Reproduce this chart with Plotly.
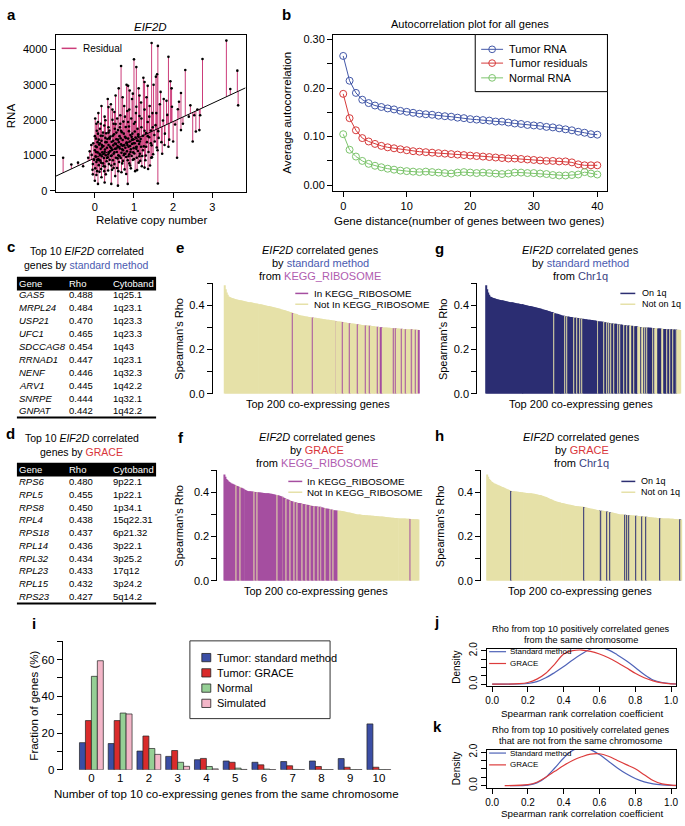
import plotly.graph_objects as go

W, H = 685, 826
FONT = "Liberation Sans, Arial, Helvetica, sans-serif"

# ---------------- panel a : EIF2D RNA vs relative copy number ----------------
cn = [-0.08, -0.05, -0.04, -0.02, 0.00, 0.01, 0.02, 0.03, 0.04, 0.05,
      0.06, 0.07, 0.08, 0.09, 0.10, 0.11, 0.12, 0.13, 0.14, 0.15,
      0.16, 0.17, 0.18, 0.19, 0.20, 0.21, 0.22, 0.23, 0.24, 0.25,
      0.26, 0.27, 0.28, 0.29, 0.30, 0.31, 0.32, 0.33, 0.34, 0.35,
      0.36, 0.37, 0.38, 0.39, 0.40, 0.41, 0.42, 0.43, 0.44, 0.45,
      0.46, 0.47, 0.48, 0.49, 0.50, 0.51, 0.52, 0.53, 0.54, 0.55,
      0.56, 0.57, 0.58, 0.59, 0.60, 0.61, 0.62, 0.63, 0.64, 0.65,
      0.66, 0.67, 0.68, 0.69, 0.70, 0.71, 0.72, 0.73, 0.74, 0.75,
      0.76, 0.77, 0.78, 0.79, 0.80, 0.81, 0.82, 0.83, 0.84, 0.85,
      0.86, 0.87, 0.88, 0.89, 0.90, 0.91, 0.92, 0.93, 0.94, 0.95,
      0.96, 0.97, 0.98, 0.99, 1.00, 1.01, 1.02, 1.03, 1.04, 1.05,
      1.06, 1.07, 1.08, 1.09, 1.10, 1.11, 1.12, 1.13, 1.14, 1.15,
      1.17, 1.19, 1.21, 1.23, 1.25, 1.27, 1.29, 1.31, 1.33, 1.35,
      1.37, 1.39, 1.41, 1.43, 1.45, 1.47, 1.49, 1.52, 1.55, 1.58,
      1.62, 1.66, 1.70, 1.74, 1.79, 1.85, 1.90, 1.97, 2.05, 2.15,
      0.02, 0.06, 0.10, 0.14, 0.18, 0.22, 0.26, 0.30, 0.34, 0.38,
      0.42, 0.46, 0.50, 0.54, 0.58, 0.62, 0.66, 0.70, 0.74, 0.78,
      0.82, 0.86, 0.90, 0.94, 0.98, 1.02, 1.06, 1.10, 1.14, 1.18,
      0.05, 0.15, 0.25, 0.35, 0.45, 0.55, 0.65, 0.75, 0.85, 0.95,
      0.12, 0.28, 0.44, 0.52, 0.68, 0.80, 0.92, 1.08, 1.20, 1.36,
      0.03, 0.07, 0.11, 0.15, 0.19, 0.23, 0.27, 0.31, 0.35, 0.39,
      0.43, 0.47, 0.51, 0.55, 0.59, 0.63, 0.67, 0.71, 0.75, 0.79,
      0.83, 0.87, 0.91, 0.95, 0.99, 1.03, 1.07, 1.11, 1.15, 1.19,
      1.23, 1.27, 1.31, 1.35, 1.39, 1.43, 1.48, 1.53, 1.57, 1.63,
      0.00, 0.04, 0.09, 0.13, 0.17, 0.21, 0.27, 0.33, 0.37, 0.41,
      0.48, 0.53, 0.57, 0.61, 0.64, 0.71, 0.77, 0.81, 0.88, 0.97,
      1.05, 1.12, 1.18, 1.24, 1.32, 1.40, 1.50, 1.68, 1.83, 1.93,
      -0.06, 0.04, 0.16, 0.24, 0.36, 0.48, 0.60, 0.72, 0.88, 1.00,
      1.16, 1.30, 1.46, 1.60, 1.72, 1.88, 2.00, 2.25, 2.40, 2.62,
      0.67, 1.00, 1.06, 1.45, 1.61, 1.56, 1.59, 1.88, 1.76, 1.96,
      2.31, 2.20, 2.75, 2.69, 3.36, 3.46, 0.35, 0.50, 0.01, 0.08,
      0.85, 0.89, 1.27, 1.35, 1.14, 2.44, 2.54, 2.12, 3.64, 3.66,
      1.61, 2.10, 2.50, 2.58, 2.67, 1.27, 1.44, 1.78, 2.20,
      -0.81, -0.60, -0.43, -0.30, -0.17, -0.13, -0.09, -0.05, 0.00, 0.08,
      0.17, 0.25, 0.42, 0.59, 0.84]
rna = [1020, 760, 1350, 880, 1150, 640, 980, 1480, 820, 1240,
       560, 1090, 1620, 900, 730, 1310, 1050, 1760, 860, 1190,
       620, 1420, 980, 1090, 1560, 780, 1270, 930, 1850, 1110,
       690, 1380, 1010, 1630, 840, 1220, 1470, 950, 580, 1300,
       1080, 1710, 880, 1250, 1540, 990, 720, 1390, 1160, 2010,
       870, 1290, 1050, 1600, 760, 1340, 1190, 1890, 940, 1460,
       1100, 650, 1270, 1720, 1010, 1380, 820, 1550, 1200, 2140,
       930, 1320, 1080, 1660, 780, 1440, 1150, 1960, 1010, 1290,
       610, 1530, 1220, 1810, 960, 1370, 1120, 2260, 870, 1480,
       1250, 1690, 1040, 1400, 720, 1580, 1180, 2050, 990, 1330,
       1620, 880, 1460, 1210, 1900, 1060, 1350, 560, 1510, 1240,
       2380, 940, 1420, 1760, 1130, 1600, 800, 1330, 2120, 1050,
       1470, 1800, 990, 1560, 1260, 2300, 870, 1640, 1380, 1950,
       1100, 1520, 720, 1710, 1290, 2200, 1040, 1580, 1860, 1230,
       1690, 2450, 1380, 1990, 1620, 2150, 1450, 2380, 1880, 2520,
       1260, 880, 1450, 1020, 1300, 700, 1170, 1380, 1030, 1480,
       1210, 1560, 1090, 1330, 920, 1240, 1490, 1180, 1620, 1050,
       1360, 980, 1270, 1530, 1090, 1680, 1190, 1420, 980, 1250,
       1700, 1900, 2100, 1800, 2300, 1650, 1900, 2400, 1950, 2600,
       540, 470, 600, 420, 530, 480, 640, 590, 700, 620,
       1100, 1380, 870, 1560, 1240, 1050, 1500, 930, 1650, 1120,
       1000, 1420, 1760, 1200, 1450, 980, 1700, 1280, 1050, 1500,
       1300, 1820, 1100, 1450, 1350, 1950, 1250, 1550, 1400, 2050,
       1150, 1700, 1250, 1550, 2100, 1350, 1800, 1400, 2200, 1500,
       1550, 1900, 2200, 1350, 2400, 1650, 2000, 2600, 1500, 2450,
       1900, 2700, 2050, 2900, 1800, 2650, 2100, 3000, 2300, 2750,
       2200, 2900, 2500, 3200, 2650, 2400, 3000, 2800, 2550, 3100,
       600, 450, 800, 560, 760, 650, 560, 850, 780, 900,
       850, 1000, 950, 1150, 1050, 1250, 1400, 1900, 2100, 2300,
       3530, 3720, 3500, 4180, 4100, 3230, 3300, 3790, 2600, 2900,
       3420, 2770, 3730, 2140, 4250, 2880, 2370, 2230, 2050, 1950,
       2970, 2840, 3080, 2970, 2700, 2420, 2140, 2310, 3400, 2420,
       210, 940, 1400, 1680, 1720, 660, 940, 1300, 1720,
       940, 750, 800, 700, 940, 1120, 1300, 470, 290, 200,
       390, 240, 200, 150, 200]
fit_intercept = 932
fit_slope = 515
cn_range = [-1.0, 3.85]

# ---------------- panel b : autocorrelation ----------------
gene_dist = list(range(41))
tumor_rna = [0.266, 0.215, 0.190, 0.176, 0.169, 0.164, 0.161, 0.158, 0.156, 0.153,
             0.151, 0.149, 0.147, 0.146, 0.145, 0.143, 0.142, 0.141, 0.139, 0.138,
             0.136, 0.135, 0.134, 0.133, 0.131, 0.131, 0.129, 0.127, 0.126, 0.124,
             0.123, 0.122, 0.120, 0.119, 0.117, 0.115, 0.113, 0.110, 0.108, 0.105, 0.104]
tumor_resid = [0.188, 0.138, 0.113, 0.097, 0.090, 0.085, 0.081, 0.078, 0.076, 0.074,
               0.072, 0.070, 0.069, 0.068, 0.067, 0.066, 0.065, 0.064, 0.063, 0.062,
               0.061, 0.060, 0.059, 0.058, 0.057, 0.056, 0.055, 0.055, 0.054, 0.053,
               0.052, 0.051, 0.050, 0.050, 0.049, 0.049, 0.047, 0.043, 0.041, 0.041, 0.041]
normal_rna = [0.105, 0.073, 0.059, 0.050, 0.044, 0.040, 0.037, 0.034, 0.032, 0.030,
              0.029, 0.028, 0.027, 0.028, 0.027, 0.026, 0.025, 0.024, 0.026, 0.027,
              0.026, 0.025, 0.026, 0.025, 0.024, 0.023, 0.024, 0.026, 0.026, 0.025,
              0.025, 0.024, 0.023, 0.021, 0.020, 0.020, 0.021, 0.022, 0.027, 0.024, 0.022]

# ---------------- tables c / d ----------------
c_genes = ["GAS5", "MRPL24", "USP21", "UFC1", "SDCCAG8", "RRNAD1", "NENF", "ARV1", "SNRPE", "GNPAT"]
c_rho = ["0.488", "0.484", "0.470", "0.465", "0.454", "0.447", "0.446", "0.445", "0.444", "0.442"]
c_band = ["1q25.1", "1q23.1", "1q23.3", "1q23.3", "1q43", "1q23.1", "1q32.3", "1q42.2", "1q32.1", "1q42.2"]
d_genes = ["RPS6", "RPL5", "RPS8", "RPL4", "RPS18", "RPL14", "RPL32", "RPL23", "RPL15", "RPS23"]
d_rho = ["0.480", "0.455", "0.450", "0.438", "0.437", "0.436", "0.434", "0.433", "0.432", "0.427"]
d_band = ["9p22.1", "1p22.1", "1p34.1", "15q22.31", "6p21.32", "3p22.1", "3p25.2", "17q12", "3p24.2", "5q14.2"]

# ---------------- panels e-h : top 200 co-expressing genes ----------------
rho_standard = [
    0.490, 0.472, 0.458, 0.447, 0.440, 0.437, 0.435, 0.433, 0.431, 0.430,
    0.428, 0.427, 0.426, 0.425, 0.424, 0.423, 0.422, 0.421, 0.420, 0.419,
    0.418, 0.417, 0.416, 0.415, 0.414, 0.413, 0.413, 0.412, 0.411, 0.410,
    0.409, 0.408, 0.408, 0.407, 0.406, 0.405, 0.404, 0.404, 0.403, 0.402,
    0.401, 0.400, 0.399, 0.398, 0.397, 0.396, 0.395, 0.394, 0.393, 0.392,
    0.391, 0.390, 0.389, 0.388, 0.386, 0.385, 0.384, 0.382, 0.381, 0.380,
    0.378, 0.377, 0.376, 0.374, 0.373, 0.372, 0.370, 0.369, 0.367, 0.365,
    0.364, 0.362, 0.361, 0.360, 0.358, 0.357, 0.356, 0.355, 0.354, 0.353,
    0.352, 0.351, 0.350, 0.349, 0.349, 0.348, 0.347, 0.347, 0.346, 0.345,
    0.345, 0.344, 0.343, 0.343, 0.342, 0.341, 0.341, 0.340, 0.339, 0.339,
    0.338, 0.337, 0.337, 0.336, 0.335, 0.335, 0.334, 0.333, 0.333, 0.332,
    0.331, 0.331, 0.330, 0.329, 0.329, 0.328, 0.327, 0.327, 0.326, 0.325,
    0.325, 0.324, 0.323, 0.322, 0.322, 0.321, 0.320, 0.320, 0.319, 0.318,
    0.318, 0.317, 0.316, 0.316, 0.315, 0.314, 0.314, 0.313, 0.313, 0.312,
    0.311, 0.311, 0.310, 0.310, 0.309, 0.309, 0.308, 0.308, 0.307, 0.307,
    0.306, 0.306, 0.305, 0.305, 0.304, 0.304, 0.303, 0.303, 0.302, 0.302,
    0.301, 0.301, 0.300, 0.300, 0.300, 0.299, 0.299, 0.298, 0.298, 0.298,
    0.297, 0.297, 0.297, 0.296, 0.296, 0.296, 0.295, 0.295, 0.295, 0.294,
    0.294, 0.294, 0.293, 0.293, 0.293, 0.292, 0.292, 0.292, 0.292, 0.291,
    0.291, 0.291, 0.290, 0.290, 0.290, 0.290, 0.289, 0.289, 0.289, 0.288]
rho_grace = [
    0.480, 0.470, 0.460, 0.455, 0.450, 0.446, 0.443, 0.440, 0.438, 0.436,
    0.434, 0.432, 0.430, 0.428, 0.426, 0.424, 0.422, 0.420, 0.418, 0.416,
    0.414, 0.412, 0.410, 0.408, 0.406, 0.405, 0.404, 0.404, 0.403, 0.403,
    0.402, 0.402, 0.401, 0.401, 0.400, 0.400, 0.399, 0.399, 0.398, 0.398,
    0.397, 0.397, 0.396, 0.396, 0.395, 0.395, 0.394, 0.393, 0.393, 0.392,
    0.391, 0.390, 0.389, 0.388, 0.387, 0.386, 0.384, 0.383, 0.381, 0.380,
    0.378, 0.376, 0.374, 0.372, 0.370, 0.368, 0.366, 0.364, 0.362, 0.360,
    0.358, 0.357, 0.356, 0.355, 0.354, 0.353, 0.352, 0.351, 0.350, 0.349,
    0.348, 0.347, 0.346, 0.345, 0.344, 0.343, 0.342, 0.341, 0.340, 0.339,
    0.338, 0.338, 0.337, 0.337, 0.336, 0.336, 0.335, 0.335, 0.334, 0.333,
    0.332, 0.331, 0.330, 0.329, 0.328, 0.327, 0.326, 0.325, 0.324, 0.323,
    0.322, 0.321, 0.320, 0.319, 0.318, 0.318, 0.317, 0.317, 0.316, 0.316,
    0.315, 0.315, 0.314, 0.313, 0.312, 0.311, 0.310, 0.309, 0.308, 0.307,
    0.306, 0.305, 0.304, 0.303, 0.302, 0.301, 0.300, 0.300, 0.299, 0.299,
    0.298, 0.298, 0.297, 0.297, 0.297, 0.296, 0.296, 0.296, 0.295, 0.295,
    0.295, 0.294, 0.294, 0.294, 0.293, 0.293, 0.293, 0.292, 0.292, 0.291,
    0.291, 0.290, 0.290, 0.289, 0.289, 0.288, 0.288, 0.287, 0.287, 0.286,
    0.286, 0.285, 0.285, 0.285, 0.284, 0.284, 0.284, 0.283, 0.283, 0.283,
    0.282, 0.282, 0.282, 0.281, 0.281, 0.281, 0.281, 0.280, 0.280, 0.280,
    0.280, 0.279, 0.279, 0.279, 0.279, 0.278, 0.278, 0.278, 0.278, 0.277]
gene_rank = list(range(200))
kegg_standard = [69, 90, 114, 121, 128, 136, 144, 148, 157, 160, 161, 173, 175,
                 181, 185, 191, 196, 199]
not1q_standard = [69, 81, 83, 90, 93, 96, 98, 114, 121, 124, 126, 128, 131, 135, 137,
                  141, 144, 147, 148, 151, 156, 157, 158, 160, 161, 163, 165, 171,
                  173, 174, 175, 180, 181, 185, 188, 191, 194, 196, 197, 198, 199]
kegg_grace_gaps = [12, 16, 31, 34, 54, 60, 64, 68, 72, 75, 80, 84, 88, 92, 96, 99,
                   104, 109, 112]
kegg_grace_last = 116
kegg_grace_extra = [191]
chr1q_grace = [24, 99, 115, 117, 123, 126, 141, 143, 145, 152, 159, 163, 177, 198]

# ---------------- panel i ----------------
n_same = list(range(11))
frac_standard = [14.8, 14.3, 10.2, 7.3, 5.5, 4.8, 4.1, 4.5, 4.8, 6.1, 25.0]
frac_grace = [26.8, 26.8, 18.4, 10.5, 6.2, 4.1, 2.7, 2.2, 1.8, 1.4, 1.4]
frac_normal = [50.9, 30.9, 11.6, 4.1, 1.8, 0.9, 0.4, 0.2, 0.1, 0.1, 0.1]
frac_sim = [59.4, 30.4, 8.4, 1.9, 0.5, 0.2, 0.1, 0.1, 0.1, 0.1, 0.1]

# ---------------- panels j / k : density curves ----------------
j_std_x = [0.00, 0.15, 0.20, 0.25, 0.30, 0.35, 0.40, 0.45, 0.50, 0.55, 0.60, 0.65, 0.70,
           0.75, 0.80, 0.85, 0.90, 0.95, 1.00, 1.03]
j_std_y = [0.00, 0.01, 0.04, 0.15, 0.38, 0.70, 1.05, 1.45, 1.80, 2.10, 2.20, 2.05, 1.75,
           1.40, 1.00, 0.58, 0.25, 0.10, 0.03, 0.01]
j_gr_x = [0.00, 0.15, 0.20, 0.25, 0.30, 0.35, 0.40, 0.45, 0.50, 0.55, 0.60, 0.65, 0.70,
          0.75, 0.80, 0.85, 0.90, 0.95, 1.00, 1.03]
j_gr_y = [0.00, 0.03, 0.10, 0.30, 0.65, 1.20, 1.80, 2.00, 2.04, 1.96, 1.80, 1.58, 1.30,
          0.98, 0.65, 0.38, 0.20, 0.08, 0.02, 0.01]
k_std_x = [0.10, 0.20, 0.25, 0.30, 0.35, 0.40, 0.45, 0.50, 0.55, 0.60, 0.65, 0.70, 0.75,
           0.80, 0.85, 0.90, 0.95, 1.00, 1.03]
k_std_y = [0.00, 0.03, 0.15, 0.50, 1.05, 1.65, 2.10, 2.25, 2.15, 1.85, 1.45, 1.05, 0.70,
           0.42, 0.22, 0.10, 0.04, 0.01, 0.00]
k_gr_x = [0.07, 0.20, 0.25, 0.30, 0.35, 0.40, 0.45, 0.50, 0.55, 0.60, 0.65, 0.70, 0.75,
          0.80, 0.85, 0.90, 0.95, 1.00, 1.03]
k_gr_y = [0.00, 0.05, 0.20, 0.50, 0.85, 1.20, 1.50, 1.72, 1.88, 1.90, 1.75, 1.50, 1.25,
          1.00, 0.65, 0.30, 0.10, 0.03, 0.01]

# colours
PINK = "#cc3d7a"
B_BLUE, B_RED, B_GREEN = "#4358a8", "#d63a3a", "#7cc46c"
PURPLE, KHAKI, NAVY = "#a54ea0", "#e6e1a9", "#2c2e72"
TXT_BLUE, TXT_RED, TXT_PURPLE, TXT_NAVY = "#4a5ab0", "#d9353b", "#b05cb0", "#3a3f80"
I_BLUE, I_RED, I_GREEN, I_PINK = "#3b4ea5", "#d92b2b", "#95cf95", "#f3b6c8"
D_BLUE, D_RED = "#4f63b8", "#dc3c3c"


def fx(p):
    return p / W


def fy(p):
    return 1 - p / H


def dx(l, r):
    return [fx(l), fx(r)]


def dy(top, bottom):
    return [fy(bottom), fy(top)]


def axis(domain, rng, size=11, **kw):
    d = dict(domain=domain, range=rng, showgrid=False, zeroline=False,
             showline=True, linecolor="black", linewidth=1,
             ticks="outside", ticklen=5, tickwidth=1, tickcolor="black",
             tickfont=dict(family=FONT, size=size, color="black"), fixedrange=True)
    d.update(kw)
    return d


annotations = []
shapes = []


def txt(x, y, text, size=11, xa="center", angle=0, color="black"):
    annotations.append(dict(x=fx(x), y=fy(y), xref="paper", yref="paper", text=text,
                            showarrow=False, xanchor=xa, yanchor="middle", textangle=angle,
                            borderpad=0, font=dict(family=FONT, size=size, color=color)))


def hline(x0, x1, y, color, width=1.2):
    shapes.append(dict(type="line", xref="paper", yref="paper", x0=fx(x0), x1=fx(x1),
                       y0=fy(y), y1=fy(y), line=dict(color=color, width=width)))


def rect(x0, y0, x1, y1, fill, line="black", lw=1):
    shapes.append(dict(type="rect", xref="paper", yref="paper", x0=fx(x0), x1=fx(x1),
                       y0=fy(y1), y1=fy(y0), fillcolor=fill, line=dict(color=line, width=lw)))


def ring(x, y, r, color):
    shapes.append(dict(type="circle", xref="paper", yref="paper", x0=fx(x - r), x1=fx(x + r),
                       y0=fy(y + r), y1=fy(y - r), line=dict(color=color, width=1)))


fig = go.Figure()

# ---- a ----
seg_x, seg_y = [], []
for x, y in zip(cn, rna):
    seg_x += [x, x, None]
    seg_y += [y, fit_intercept + fit_slope * x, None]
fig.add_trace(go.Scatter(x=seg_x, y=seg_y, mode="lines", line=dict(color=PINK, width=1),
                         xaxis="x", yaxis="y"))
fig.add_trace(go.Scatter(x=cn, y=rna, mode="markers", marker=dict(color="black", size=2.6),
                         xaxis="x", yaxis="y"))
fig.add_trace(go.Scatter(x=cn_range, y=[fit_intercept + fit_slope * v for v in cn_range],
                         mode="lines", line=dict(color="black", width=1), xaxis="x", yaxis="y"))

# ---- b ----
for vals, col in [(tumor_rna, B_BLUE), (tumor_resid, B_RED), (normal_rna, B_GREEN)]:
    fig.add_trace(go.Scatter(x=gene_dist, y=vals, mode="lines+markers",
                             line=dict(color=col, width=1),
                             marker=dict(symbol="circle-open", size=7, color=col,
                                         line=dict(width=1, color=col)),
                             xaxis="x2", yaxis="y2"))


# ---- e-h ----
def colours(members, on, off):
    s = set(members)
    return [on if i in s else off for i in gene_rank]


kegg_grace = [i for i in range(kegg_grace_last + 1) if i not in kegg_grace_gaps] + kegg_grace_extra
bar_sets = [
    (rho_standard, colours(kegg_standard, PURPLE, KHAKI), "x3", "y3"),
    (rho_grace, colours(kegg_grace, PURPLE, KHAKI), "x4", "y4"),
    (rho_standard, colours(not1q_standard, KHAKI, NAVY), "x5", "y5"),
    (rho_grace, colours(chr1q_grace, NAVY, KHAKI), "x6", "y6"),
]
for vals, cols, xa, ya in bar_sets:
    fig.add_trace(go.Bar(x=gene_rank, y=vals, width=1,
                         marker=dict(color=cols, line=dict(width=0)), xaxis=xa, yaxis=ya))

# ---- i ----
for vals, col in [(frac_standard, I_BLUE), (frac_grace, I_RED),
                  (frac_normal, I_GREEN), (frac_sim, I_PINK)]:
    fig.add_trace(go.Bar(x=n_same, y=vals, marker=dict(color=col, line=dict(color="#222", width=0.7)),
                         xaxis="x7", yaxis="y7"))

# ---- j / k ----
for xs, ys, col, xa, ya in [(j_std_x, j_std_y, D_BLUE, "x8", "y8"),
                            (j_gr_x, j_gr_y, D_RED, "x8", "y8"),
                            (k_std_x, k_std_y, D_BLUE, "x9", "y9"),
                            (k_gr_x, k_gr_y, D_RED, "x9", "y9")]:
    fig.add_trace(go.Scatter(x=xs, y=ys, mode="lines", line=dict(color=col, width=1.2, shape="spline"),
                             xaxis=xa, yaxis=ya, cliponaxis=True))

# ---- axes ----
blank_x = dict(visible=False, showgrid=False, zeroline=False, fixedrange=True)
rho_ticks = dict(tickvals=[0, 0.1, 0.2, 0.3, 0.4, 0.5], ticktext=["0.0", "", "0.2", "", "0.4", ""])
dens_ticks = dict(tickvals=[0, 0.5, 1, 1.5, 2], ticktext=["0.0", "", "", "", "2.0"], tickangle=-90)
prob_ticks = dict(tickvals=[0, 0.2, 0.4, 0.6, 0.8, 1.0], ticktext=["0.0", "0.2", "0.4", "0.6", "0.8", "1.0"])

layout_axes = dict(
    xaxis=axis(dx(54, 245), [-1.0, 3.85], mirror=True, tickvals=[0, 1, 2, 3], anchor="y"),
    yaxis=axis(dy(28, 188), [-30, 4420], mirror=True, tickvals=[0, 1000, 2000, 3000, 4000], anchor="x"),
    xaxis2=axis(dx(333, 609), [-1.6, 41.6], mirror=True, tickvals=[0, 10, 20, 30, 40], anchor="y2"),
    yaxis2=axis(dy(28, 187), [-0.012, 0.31], mirror=True, anchor="x2",
                tickvals=[0, 0.05, 0.1, 0.15, 0.2, 0.25, 0.3],
                ticktext=["0.00", "", "0.10", "", "0.20", "", "0.30"]),
    xaxis3=dict(blank_x, domain=dx(212, 427), range=[-12.7, 206.6], anchor="y3"),
    yaxis3=axis(dy(280.5, 393), [0, 0.5], anchor="x3", **rho_ticks),
    xaxis4=dict(blank_x, domain=dx(216.7, 431.7), range=[-7.2, 212.1], anchor="y4"),
    yaxis4=axis(dy(470.5, 583), [0, 0.5], anchor="x4", **rho_ticks),
    xaxis5=dict(blank_x, domain=dx(478, 685), range=[-9.7, 201.5], anchor="y5"),
    yaxis5=axis(dy(280.5, 393), [0, 0.5], anchor="x5", **rho_ticks),
    xaxis6=dict(blank_x, domain=dx(482, 685), range=[-6.6, 200.5], anchor="y6"),
    yaxis6=axis(dy(470.5, 583), [0, 0.5], anchor="x6", **rho_ticks),
    xaxis7=axis(dx(61, 395), [-1.0, 10.55], size=11.5, showline=False, ticks="",
                tickvals=n_same, anchor="y7"),
    yaxis7=axis(dy(644.4, 775), [0, 70], size=11.5, anchor="x7",
                tickvals=[0, 10, 20, 30, 40, 50, 60, 70],
                ticktext=["0", "", "20", "", "40", "", "60", ""]),
    xaxis8=axis(dx(488, 678), [-0.028, 1.028], size=10, mirror=True, anchor="y8", **prob_ticks),
    yaxis8=axis(dy(652, 690), [-0.118, 2.118], size=10, mirror=True, anchor="x8", **dens_ticks),
    xaxis9=axis(dx(488, 678), [-0.028, 1.028], size=10, mirror=True, anchor="y9", **prob_ticks),
    yaxis9=axis(dy(755, 793), [-0.118, 2.118], size=10, mirror=True, anchor="x9", **dens_ticks),
)

# ---- text: panel letters ----
for lab, x, y in [("a", 10, 8), ("b", 286, 8), ("c", 9, 243), ("d", 9, 433), ("e", 179, 244),
                  ("f", 180, 437), ("g", 440, 245), ("h", 440, 435), ("i", 32, 626),
                  ("j", 437, 624), ("k", 438, 731)]:
    txt(x, y, "<b>%s</b>" % lab, size=15)

# a
txt(149, 20, "<i>EIF2D</i>", size=11.5)
txt(9, 110, "RNA", size=11.5, angle=-90)
txt(150, 216, "Relative copy number", size=11.5)
hline(60, 75, 42, PINK, 1.5)
txt(80, 42, "Residual", size=10, xa="left")

# b
txt(471, 17, "Autocorrelation plot for all genes", size=11)
txt(287, 107, "Average autocorrelation", size=11.5, angle=-90)
txt(470, 217, "Gene distance(number of genes between two genes)", size=11.5)
rect(476, 28, 609, 86, "white")
for y, col, name in [(43, B_BLUE, "Tumor RNA"), (57, B_RED, "Tumor residuals"), (72, B_GREEN, "Normal RNA")]:
    hline(482, 504, y, col, 1)
    ring(493, y, 3.4, col)
    txt(509, y, name, size=11, xa="left")


# tables
def table(cx, title1, title2, t1y, hdr_y, rows_y, step, bottom_y, genes, rhos, bands):
    txt(cx, t1y, title1, size=10.5)
    txt(cx, t1y + 14.5, title2, size=10.5)
    rect(15, hdr_y - 7, 155, hdr_y + 7, "black", line="black", lw=0)
    for x, h in [(16, "Gene"), (66, "Rho"), (111, "Cytoband")]:
        txt(x, hdr_y, h, size=9.5, xa="left", color="white")
    for i, (g, r, b) in enumerate(zip(genes, rhos, bands)):
        y = rows_y + step * i
        txt(16, y, "<i>%s</i>" % g, size=9.5, xa="left")
        txt(66, y, r, size=9.5, xa="left")
        txt(111, y, b, size=9.5, xa="left")
    hline(15, 155, bottom_y, "black", 2)


table(85, "Top 10 <i>EIF2D</i> correlated",
      "genes by <span style='color:%s'>standard method</span>" % TXT_BLUE,
      248, 281, 292.5, 13.1, 417, c_genes, c_rho, c_band)
table(80, "Top 10 <i>EIF2D</i> correlated",
      "genes by <span style='color:%s'>GRACE</span>" % TXT_RED,
      437.5, 470, 482, 13.0, 606, d_genes, d_rho, d_band)

# e-h titles, labels, legends
std_txt = "by <span style='color:%s'>standard method</span>" % TXT_BLUE
gr_txt = "by <span style='color:%s'>GRACE</span>" % TXT_RED
kegg_txt = "from <span style='color:%s'>KEGG_RIBOSOME</span>" % TXT_PURPLE
chr_txt = "from <span style='color:%s'>Chr1q</span>" % TXT_NAVY
for cx, ty, line2, line3, ylab_x, ylab_y, xl_y, xl_x in [
        (320, 247, std_txt, kegg_txt, 178, 337, 403, 318),
        (317, 437, gr_txt, kegg_txt, 178, 527, 593, 316),
        (582, 247, std_txt, chr_txt, 443, 337, 403, 582),
        (583, 437, gr_txt, chr_txt, 440, 527, 593, 581)]:
    txt(cx, ty, "<i>EIF2D</i> correlated genes", size=11)
    txt(cx, ty + 13, line2, size=11)
    txt(cx, ty + 26, line3, size=11)
    txt(ylab_x, ylab_y, "Spearman's Rho", size=11, angle=-90)
    txt(xl_x, xl_y, "Top 200 co-expressing genes", size=11)

for lx0, lx1, tx, y1, c1, n1, c2, n2, fs in [
        (295, 308, 313, 291, PURPLE, "In KEGG_RIBOSOME", KHAKI, "Not In KEGG_RIBOSOME", 9.8),
        (288, 302, 306, 482, PURPLE, "In KEGG_RIBOSOME", KHAKI, "Not In KEGG_RIBOSOME", 9.8),
        (622, 637, 643, 291, NAVY, "On 1q", KHAKI, "Not on 1q", 9),
        (623, 637, 642, 482, NAVY, "On 1q", KHAKI, "Not on 1q", 9)]:
    hline(lx0, lx1, y1, c1, 1.5)
    txt(tx, y1, n1, size=fs, xa="left")
    hline(lx0, lx1, y1 + 11, c2, 1.5)
    txt(tx, y1 + 11, n2, size=fs, xa="left")

# i
txt(32, 710, "Fraction of genes (%)", size=11.5, angle=-90)
txt(226, 800, "Number of top 10 co-expressing genes from the same chromosome", size=11.5)
rect(189, 644, 330, 723, "white", line="#333", lw=1)
for y, col, name in [(661, I_BLUE, "Tumor: standard method"), (676.5, I_RED, "Tumor: GRACE"),
                     (692, I_GREEN, "Normal"), (707.5, I_PINK, "Simulated")]:
    rect(201, y - 4.2, 210, y + 4.2, col, line="#222", lw=0.8)
    txt(215, y, name, size=11, xa="left")

# j / k
for ty, t2, box_top, xl_y in [(632, "from the same chromosome", 652, 718),
                              (735, "that are not from the same chromosome", 755, 819)]:
    txt(582, ty, "Rho from top 10 positively correlated genes", size=9.2)
    txt(582, ty + 11, t2, size=9.2)
    txt(583, xl_y, "Spearman rank correlation coefficient", size=9.8)
    txt(457, box_top + 19, "Density", size=10, angle=-90)
    hline(490, 507, box_top + 3, D_BLUE, 1.2)
    txt(510, box_top + 3, "Standard method", size=8, xa="left")
    hline(490, 507, box_top + 15, D_RED, 1.2)
    txt(510, box_top + 15, "GRACE", size=8, xa="left")

fig.update_layout(
    width=W, height=H, margin=dict(l=0, r=0, t=0, b=0),
    showlegend=False, plot_bgcolor="white", paper_bgcolor="white",
    barmode="group", bargap=0.17, bargroupgap=0,
    font=dict(family=FONT, color="black"),
    annotations=annotations, shapes=shapes, **layout_axes)

# the page body has a default 8px margin; drop it so the figure sits at the window origin
fig.write_html("out.html", config={"displayModeBar": False},
               post_script="document.body.style.margin='0px';")
